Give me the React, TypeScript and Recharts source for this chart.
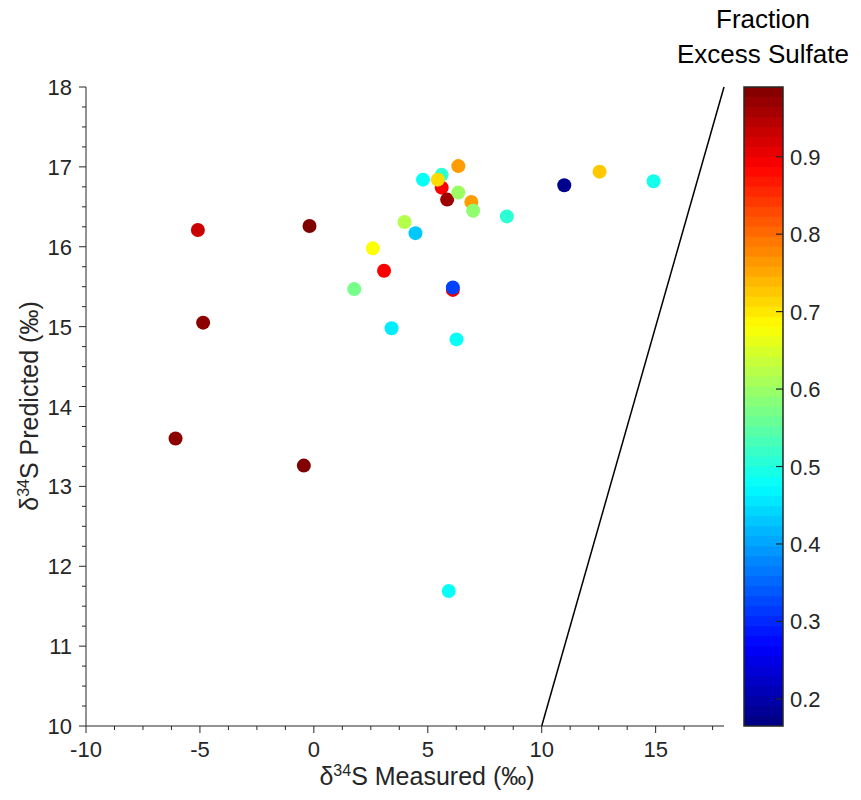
import { ScatterChart, ComposedChart, Scatter, XAxis, YAxis, Cell, ReferenceLine, ReferenceArea, Label } from "recharts";

// measured / predicted d34S (permil) and fraction of excess sulfate, one entry per sample
const measured = [-6.07, -5.09, -4.86, -0.44, -0.19, 1.77, 2.59, 3.08, 3.41, 3.98, 4.46, 4.79, 5.61, 5.61, 5.44, 5.85, 6.34, 6.34, 6.91, 6.99, 5.92, 6.1, 6.1, 6.26, 8.47, 10.99, 12.54, 14.91];
const predicted = [13.6, 16.21, 15.05, 13.26, 16.26, 15.47, 15.98, 15.7, 14.98, 16.31, 16.17, 16.84, 16.9, 16.74, 16.84, 16.59, 17.01, 16.68, 16.56, 16.45, 11.69, 15.46, 15.49, 14.84, 16.38, 16.77, 16.94, 16.82];
const fraction = [0.98, 0.93, 0.98, 0.99, 0.99, 0.57, 0.68, 0.89, 0.46, 0.62, 0.43, 0.48, 0.51, 0.89, 0.71, 0.965, 0.76, 0.6, 0.76, 0.59, 0.48, 0.9, 0.32, 0.48, 0.51, 0.177, 0.725, 0.49];

const xTicks = [-10, -5, 0, 5, 10, 15];
const yTicks = [10, 11, 12, 13, 14, 15, 16, 17, 18];
const cbTicks = [0.2, 0.3, 0.4, 0.5, 0.6, 0.7, 0.8, 0.9];
const oneToOne = [{ x: 10, y: 10 }, { x: 18, y: 18 }];

const cbMin = 0.165;
const cbMax = 0.99;

const ink = "#262626";
const font = "'Liberation Sans', Arial, Helvetica, sans-serif";

const points = measured.map((m, i) => ({ x: m, y: predicted[i], f: fraction[i] }));

// minor ticks (matlab style)
const xAll: number[] = [];
for (let v = -10; v <= 17.5; v += 1.25) xAll.push(v);
const yAll: number[] = [];
for (let i = 0; i <= 32; i++) yAll.push(10 + i * 0.25);

function jet(v: number) {
  const t = Math.min(1, Math.max(0, (v - cbMin) / (cbMax - cbMin)));
  const c = (d: number) => Math.round(255 * Math.min(1, Math.max(0, 1.5 - Math.abs(4 * t - d))));
  return `rgb(${c(3)},${c(2)},${c(1)})`;
}

const nBands = 64;
const bands = Array.from({ length: nBands }, (_, i) => {
  const lo = cbMin + ((cbMax - cbMin) * i) / nBands;
  const hi = cbMin + ((cbMax - cbMin) * (i + 1)) / nBands;
  return { x: 0.5, lo, hi, mid: (lo + hi) / 2 };
});

const isMajor = (list: number[], v: number) => list.some((t) => Math.abs(t - v) < 1e-6);

const XTick = (props: any) => {
  const { x, y, payload } = props;
  const major = isMajor(xTicks, payload.value);
  return (
    <g>
      <line x1={x} x2={x} y1={y} y2={y + (major ? 7 : 4)} stroke={ink} strokeWidth={1} />
      {major && (
        <text x={x} y={y + 31} textAnchor="middle" fill={ink} fontSize={22} fontFamily={font}>
          {payload.value}
        </text>
      )}
    </g>
  );
};

const YTick = (props: any) => {
  const { x, y, payload } = props;
  const major = isMajor(yTicks, payload.value);
  return (
    <g>
      <line x1={x} x2={x - (major ? 7 : 4)} y1={y} y2={y} stroke={ink} strokeWidth={1} />
      {major && (
        <text x={x - 14} y={y + 8} textAnchor="end" fill={ink} fontSize={22} fontFamily={font}>
          {payload.value}
        </text>
      )}
    </g>
  );
};

const CbTick = (props: any) => {
  const { x, y, payload } = props;
  return (
    <g>
      <line x1={x - 7} x2={x} y1={y} y2={y} stroke={ink} strokeWidth={1.2} />
      <text x={x + 7} y={y + 8} textAnchor="start" fill={ink} fontSize={22} fontFamily={font}>
        {payload.value}
      </text>
    </g>
  );
};

const Dot = (props: any) => <circle cx={props.cx} cy={props.cy} r={7} fill={props.fill} />;

const XLabel = () => (
  <text x={427} y={785} textAnchor="middle" fill={ink} fontSize={25} fontFamily={font}>
    δ<tspan dy={-9} fontSize={16}>34</tspan>
    <tspan dy={9}>S Measured (‰)</tspan>
  </text>
);

const YLabel = () => (
  <text x={0} y={0} transform="translate(38, 406) rotate(-90)" textAnchor="middle" fill={ink} fontSize={25} fontFamily={font}>
    δ<tspan dy={-9} fontSize={16}>34</tspan>
    <tspan dy={9}>S Predicted (‰)</tspan>
  </text>
);

export default function App() {
  return (
    <div style={{ position: "absolute", left: 0, top: 0, width: 861, height: 800, background: "#fff" }}>
      <div style={{ position: "absolute", left: 0, top: 0 }}>
        <ScatterChart width={740} height={800} margin={{ top: 87, right: 16, bottom: 0, left: 0 }}>
          <XAxis
            type="number"
            dataKey="x"
            domain={[-10, 18]}
            ticks={xAll}
            interval={0}
            tick={XTick}
            tickLine={false}
            tickSize={0}
            tickMargin={0}
            height={74}
            stroke={ink}
          >
            <Label content={XLabel} />
          </XAxis>
          <YAxis
            type="number"
            dataKey="y"
            domain={[10, 18]}
            ticks={yAll}
            interval={0}
            tick={YTick}
            tickLine={false}
            tickSize={0}
            tickMargin={0}
            width={86}
            stroke={ink}
          >
            <Label content={YLabel} />
          </YAxis>
          <ReferenceLine segment={oneToOne} stroke="#000" strokeWidth={1.5} ifOverflow="visible" />
          <Scatter data={points} isAnimationActive={false} shape={Dot}>
            {points.map((p, i) => (
              <Cell key={i} fill={jet(p.f)} />
            ))}
          </Scatter>
        </ScatterChart>
      </div>
      <div style={{ position: "absolute", left: 700, top: 0 }}>
        <ComposedChart width={161} height={800} margin={{ top: 87, right: 0, bottom: 74, left: 44 }} data={bands}>
          <XAxis type="number" dataKey="x" domain={[0, 1]} hide />
          <YAxis
            type="number"
            orientation="right"
            domain={[cbMin, cbMax]}
            ticks={cbTicks}
            interval={0}
            width={78}
            tick={CbTick}
            tickLine={false}
            axisLine={false}
            tickSize={0}
            tickMargin={0}
            allowDataOverflow
          />
          {bands.map((b, i) => (
            <ReferenceArea
              key={i}
              x1={0}
              x2={1}
              y1={b.lo}
              y2={Math.min(cbMax, b.hi + 0.002)}
              fill={jet(b.mid)}
              fillOpacity={1}
              stroke="none"
            />
          ))}
          <ReferenceArea x1={0} x2={1} y1={cbMin} y2={cbMax} fill="none" stroke={ink} strokeWidth={1.5} />
          <Scatter dataKey="mid" isAnimationActive={false} shape={() => <g />} />
        </ComposedChart>
      </div>
      <div
        style={{
          position: "absolute",
          left: 663,
          top: 2,
          width: 200,
          textAlign: "center",
          fontFamily: font,
          fontSize: 26,
          lineHeight: "35px",
          color: "#000",
        }}
      >
        Fraction
        <br />
        Excess Sulfate
      </div>
    </div>
  );
}
